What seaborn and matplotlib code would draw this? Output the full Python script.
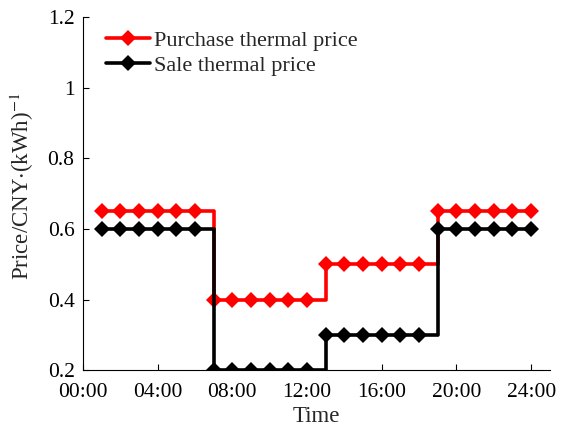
import matplotlib
matplotlib.use("Agg")
import matplotlib.pyplot as plt
import seaborn as sns
import pandas as pd

# hourly thermal prices, hours 1..24
hours = list(range(1, 25))
purchase_price = [0.65] * 6 + [0.4] * 6 + [0.5] * 6 + [0.65] * 6
sale_price = [0.6] * 6 + [0.2] * 6 + [0.3] * 6 + [0.6] * 6
x_ticks = [0, 4, 8, 12, 16, 20, 24]
x_tick_labels = ["00:00", "04:00", "08:00", "12:00", "16:00", "20:00", "24:00"]
y_ticks = [0.2, 0.4, 0.6, 0.8, 1.0, 1.2]
y_tick_labels = ["0.2", "0.4", "0.6", "0.8", "1", "1.2"]

sns.set_style("ticks")
plt.rcParams["font.family"] = ["Liberation Serif", "DejaVu Serif"]
plt.rcParams["mathtext.fontset"] = "stix"
plt.rcParams["xtick.direction"] = "in"
plt.rcParams["ytick.direction"] = "in"

df = pd.DataFrame({"hour": hours, "purchase": purchase_price,
                   "sale": sale_price})

fig = plt.figure(figsize=(5.68, 4.33), dpi=100)
ax = fig.add_axes([0.146, 0.145, 0.822, 0.816])

sns.lineplot(data=df, x="hour", y="purchase", ax=ax, color="#ff0000",
             linewidth=2.6, marker="D", markersize=8.5, markeredgewidth=0,
             drawstyle="steps-post", label="Purchase thermal price")
sns.lineplot(data=df, x="hour", y="sale", ax=ax, color="black",
             linewidth=2.6, marker="D", markersize=8.5, markeredgewidth=0,
             drawstyle="steps-post", label="Sale thermal price")

ax.set_xlim(0, 25)
ax.set_ylim(0.2, 1.2)
ax.set_xticks(x_ticks)
ax.set_xticklabels(x_tick_labels)
ax.set_yticks(y_ticks)
ax.set_yticklabels(y_tick_labels)
ax.tick_params(labelsize=15.5, length=4, width=0.8, colors="black")
ax.tick_params(axis="x", pad=9)
ax.tick_params(axis="y", pad=6)
ax.set_xlabel("Time", fontsize=16.5, labelpad=3)
ax.set_ylabel("Price/CNY$\\cdot$(kWh)$^{-1}$", fontsize=16.5)
ax.yaxis.set_label_coords(-0.1, 0.52)
sns.despine(ax=ax)
for s in ["left", "bottom"]:
    ax.spines[s].set_linewidth(0.8)
    ax.spines[s].set_color("black")

ax.legend(loc="upper left", frameon=False, fontsize=16, handlelength=2.0,
          handletextpad=0.2, labelspacing=0.2, borderaxespad=0.2,
          bbox_to_anchor=(0.02, 1.0))

fig.savefig("out.png", dpi=100)
